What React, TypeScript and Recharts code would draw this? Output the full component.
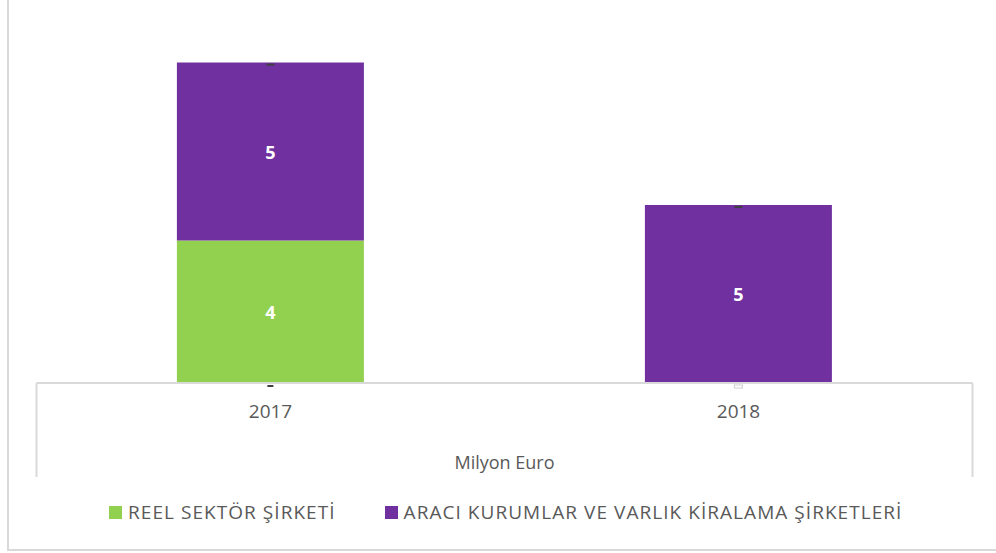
import React from "react";
import { BarChart, Bar, XAxis, YAxis, LabelList } from "recharts";

const years = ["2017", "2018"];
const reelSektor = [4, 0];
const araciKurumlar = [5, 5];
const digerSeri = [0, 0];

const seriesNames = {
  reel: "REEL SEKTÖR ŞİRKETİ",
  araci: "ARACI KURUMLAR VE VARLIK KİRALAMA ŞİRKETLERİ",
};
const axisTitle = "Milyon Euro";

const GREEN = "#92D050";
const PURPLE = "#7030A0";
const GRID = "#d9d9d9";
const TEXT = "#595959";
const FONT = "'Open Sans', sans-serif";

const data = years.map((year, i) => ({
  year,
  reel: reelSektor[i],
  araci: araciKurumlar[i],
  diger: digerSeri[i],
}));

const valueText = (cx: number, cy: number, value: any) => (
  <text
    x={cx}
    y={cy}
    textAnchor="middle"
    dominantBaseline="central"
    fill="#ffffff"
    fontFamily={FONT}
    fontWeight={700}
    fontSize={18}
  >
    {value}
  </text>
);

const ReelLabel = (props: any) => {
  const { x, y, width, height, value } = props;
  if (!value) return null;
  const cx = Number(x) + Number(width) / 2;
  const base = Number(y) + Number(height);
  return (
    <g>
      {valueText(cx, Number(y) + Number(height) / 2, value)}
      <rect x={cx - 3} y={base + 2} width={6} height={2} fill="#404040" />
    </g>
  );
};

// purple label also carries the "-" marks excel shows for zero values
const AraciLabel = (props: any) => {
  const { x, y, width, height, value, index } = props;
  const cx = Number(x) + Number(width) / 2;
  const row = data[index] || ({} as any);
  const base = Number(y) + Number(height);
  return (
    <g>
      {value ? valueText(cx, Number(y) + Number(height) / 2, value) : null}
      {row.diger === 0 && <rect x={cx - 4} y={Number(y) + 1} width={8} height={2} fill="#404040" />}
      {row.reel === 0 && (
        <rect x={cx - 4} y={base + 2} width={8} height={3} fill="#fff" stroke="#d0d0d0" strokeWidth={1} />
      )}
    </g>
  );
};

const AxisBox = (props: any) => {
  const vb = props.viewBox || {};
  const { x, y, width, height } = vb;
  return (
    <g>
      <line x1={x} y1={y} x2={x} y2={y + height} stroke={GRID} strokeWidth={2} />
      <line x1={x + width} y1={y} x2={x + width} y2={y + height} stroke={GRID} strokeWidth={2} />
      <text
        x={x + width / 2}
        y={y + 79}
        textAnchor="middle"
        dominantBaseline="central"
        fill={TEXT}
        fontFamily={FONT}
        fontSize={18}
      >
        {axisTitle}
      </text>
    </g>
  );
};

const LegendItem = ({ color, label }: { color: string; label: string }) => (
  <div style={{ display: "flex", alignItems: "center" }}>
    <span style={{ width: 13, height: 13, background: color, marginRight: 6 }} />
    <span>{label}</span>
  </div>
);

export default function App() {
  return (
    <div style={{ position: "absolute", left: 0, top: 0, width: 996, height: 553, overflow: "hidden", background: "#fff" }}>
      <div
        style={{
          position: "absolute",
          left: 7,
          top: -10,
          width: 1000,
          height: 561,
          boxSizing: "border-box",
          border: `2px solid ${GRID}`,
        }}
      />
      <div style={{ position: "absolute", left: 0, top: 0 }}>
        <BarChart
          width={996}
          height={553}
          data={data}
          margin={{ top: 27, right: 23.5, left: 36.5, bottom: 76 }}
          barCategoryGap="30%"
        >
          <YAxis hide domain={[0, 10]} />
          <XAxis
            dataKey="year"
            height={94}
            axisLine={{ stroke: GRID, strokeWidth: 2 }}
            tickLine={false}
            tickSize={0}
            tickMargin={22}
            tick={{ fill: TEXT, fontSize: 19, fontFamily: FONT }}
            label={<AxisBox />}
          />
          <Bar dataKey="reel" stackId="a" fill={GREEN} isAnimationActive={false}>
            <LabelList dataKey="reel" content={ReelLabel} />
          </Bar>
          <Bar dataKey="araci" stackId="a" fill={PURPLE} isAnimationActive={false}>
            <LabelList dataKey="araci" content={AraciLabel} />
          </Bar>
          <Bar dataKey="diger" stackId="a" fill="#404040" isAnimationActive={false} />
        </BarChart>
      </div>
      <div
        style={{
          position: "absolute",
          top: 501,
          left: 109,
          display: "flex",
          gap: 49,
          fontFamily: FONT,
          fontSize: 19,
          letterSpacing: 1.05,
          color: TEXT,
          lineHeight: "22px",
        }}
      >
        <LegendItem color={GREEN} label={seriesNames.reel} />
        <LegendItem color={PURPLE} label={seriesNames.araci} />
      </div>
    </div>
  );
}
